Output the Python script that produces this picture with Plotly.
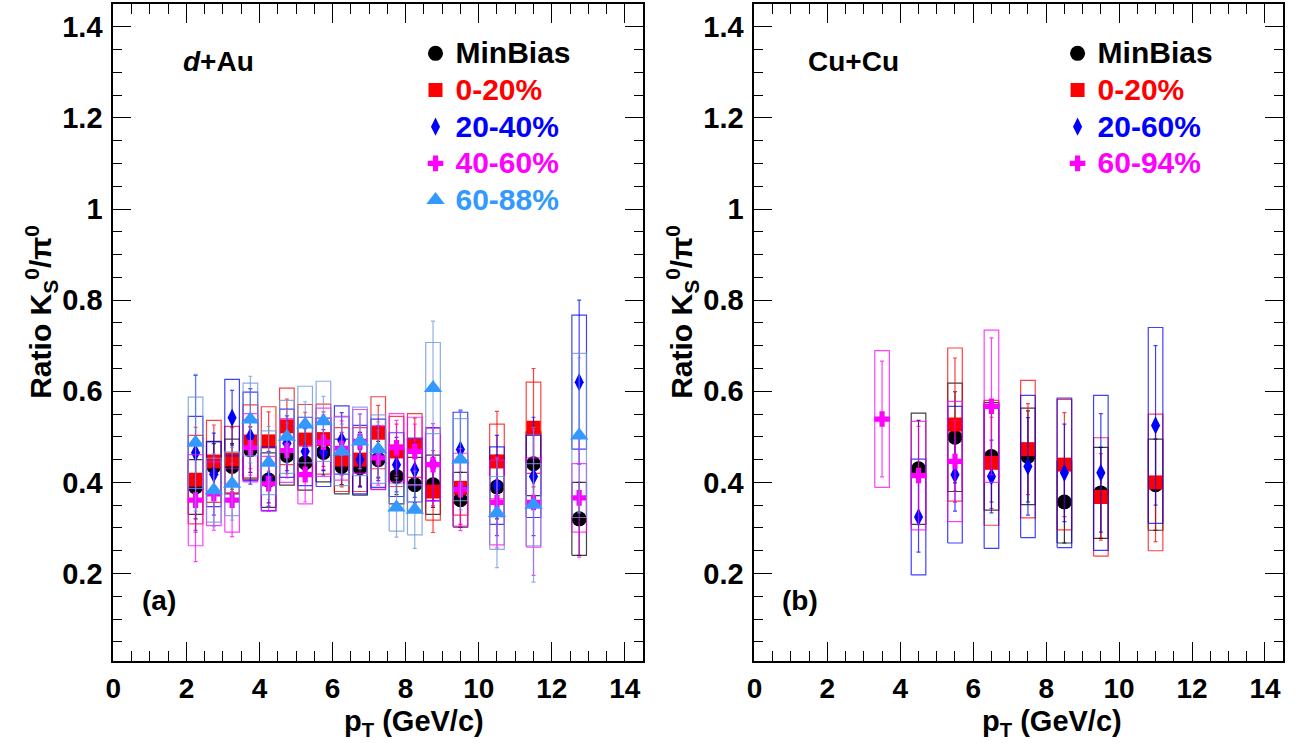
import plotly.graph_objects as go

W, H = 1314, 743

# ---------------- Panel (a): d+Au ----------------
xa = [2.25, 2.75, 3.25, 3.75, 4.25, 4.75, 5.25, 5.75, 6.25, 6.75, 7.25, 7.75, 8.25, 8.75, 9.5, 10.5, 11.5, 12.75]
xa_red = xa[:17]

a_mb = [0.39, 0.435, 0.435, 0.472, 0.405, 0.459, 0.443, 0.466, 0.435, 0.432, 0.45, 0.413, 0.395, 0.395, 0.362, 0.39, 0.441, 0.32]
a_mb_stat = [0.07, 0.05, 0.05, 0.05, 0.05, 0.04, 0.04, 0.04, 0.04, 0.04, 0.04, 0.04, 0.04, 0.05, 0.06, 0.07, 0.09, 0.08]
a_mb_sys = [0.06, 0.055, 0.06, 0.065, 0.06, 0.065, 0.06, 0.065, 0.06, 0.06, 0.065, 0.06, 0.06, 0.065, 0.06, 0.065, 0.07, 0.08]

a_c0 = [0.406, 0.446, 0.45, 0.49, 0.49, 0.523, 0.494, 0.495, 0.45, 0.45, 0.509, 0.468, 0.481, 0.38, 0.388, 0.446, 0.52]
a_c0_stat = [0.115, 0.08, 0.07, 0.06, 0.065, 0.06, 0.06, 0.06, 0.06, 0.06, 0.06, 0.06, 0.06, 0.09, 0.08, 0.11, 0.13]
a_c0_sys = [0.097, 0.09, 0.073, 0.08, 0.076, 0.084, 0.077, 0.077, 0.07, 0.07, 0.079, 0.077, 0.07, 0.063, 0.06, 0.082, 0.1]

a_c20 = [0.465, 0.418, 0.542, 0.501, 0.408, 0.486, 0.468, 0.466, 0.493, 0.45, 0.464, 0.439, 0.427, 0.44, 0.472, 0.393, 0.413, 0.62]
a_c20_stat = [0.17, 0.09, 0.06, 0.105, 0.06, 0.06, 0.05, 0.05, 0.06, 0.06, 0.06, 0.06, 0.06, 0.08, 0.085, 0.11, 0.13, 0.18]
a_c20_sys = [0.08, 0.071, 0.084, 0.097, 0.07, 0.075, 0.075, 0.075, 0.075, 0.075, 0.075, 0.07, 0.07, 0.08, 0.082, 0.085, 0.09, 0.147]

a_c40 = [0.361, 0.375, 0.361, 0.476, 0.397, 0.47, 0.417, 0.488, 0.475, 0.49, 0.454, 0.476, 0.468, 0.439, 0.384, 0.356, 0.356, 0.366]
a_c40_stat = [0.135, 0.08, 0.08, 0.06, 0.06, 0.06, 0.06, 0.06, 0.06, 0.06, 0.06, 0.06, 0.06, 0.09, 0.09, 0.1, 0.16, 0.13]
a_c40_sys = [0.1, 0.07, 0.07, 0.075, 0.06, 0.07, 0.064, 0.075, 0.07, 0.07, 0.07, 0.075, 0.075, 0.08, 0.08, 0.093, 0.098, 0.075]

a_c60 = [0.487, 0.383, 0.397, 0.538, 0.443, 0.50, 0.527, 0.534, 0.468, 0.49, 0.473, 0.345, 0.34, 0.607, 0.45, 0.333, 0.351, 0.503]
a_c60_stat = [0.15, 0.08, 0.08, 0.095, 0.08, 0.06, 0.05, 0.055, 0.06, 0.06, 0.06, 0.065, 0.085, 0.147, 0.11, 0.12, 0.17, 0.17]
a_c60_sys = [0.1, 0.07, 0.07, 0.08, 0.07, 0.08, 0.084, 0.088, 0.075, 0.075, 0.075, 0.052, 0.055, 0.1, 0.09, 0.08, 0.09, 0.18]

# ---------------- Panel (b): Cu+Cu ----------------
xb_mb = [4.5, 5.5, 6.5, 7.5, 8.5, 9.5, 11.0]
b_mb = [0.43, 0.499, 0.457, 0.457, 0.357, 0.377, 0.395]
b_mb_stat = [0.106, 0.1, 0.1, 0.1, 0.09, 0.1, 0.1]
b_mb_sys = [0.122, 0.119, 0.118, 0.106, 0.09, 0.1, 0.1]

xb_c0 = [5.5, 6.5, 7.5, 8.5, 9.5, 11.0]
b_c0 = [0.527, 0.443, 0.473, 0.439, 0.368, 0.40]
b_c0_stat = [0.146, 0.1, 0.1, 0.114, 0.095, 0.13]
b_c0_sys = [0.168, 0.137, 0.151, 0.143, 0.13, 0.15]

xb_c20 = [4.5, 5.5, 6.5, 7.5, 8.5, 9.5, 11.0]
b_c20 = [0.324, 0.417, 0.413, 0.435, 0.421, 0.421, 0.525]
b_c20_stat = [0.077, 0.08, 0.08, 0.107, 0.107, 0.13, 0.175]
b_c20_sys = [0.127, 0.15, 0.158, 0.156, 0.164, 0.17, 0.215]

xb_c60 = [3.5, 4.5, 5.5, 6.5]
b_c60 = [0.539, 0.415, 0.446, 0.567]
b_c60_stat = [0.127, 0.108, 0.09, 0.15]
b_c60_sys = [0.15, 0.119, 0.132, 0.167]

BOX_HW = 0.2
FONT = "Liberation Sans, Arial, sans-serif"

fig = go.Figure()


def add_series(x, y, stat, sys, name, color, barcolor, boxcolor, symbol, size, xa_, ya_, legend):
    bx, by = [], []
    for xi, yi, si in zip(x, y, sys):
        bx += [xi - BOX_HW, xi + BOX_HW, xi + BOX_HW, xi - BOX_HW, xi - BOX_HW, None]
        by += [yi - si, yi - si, yi + si, yi + si, yi - si, None]
    fig.add_trace(go.Scatter(x=bx, y=by, mode="lines", line=dict(color=boxcolor, width=1.2),
                             showlegend=False, hoverinfo="skip", xaxis=xa_, yaxis=ya_))
    fig.add_trace(go.Scatter(
        x=x, y=y, mode="markers", xaxis=xa_, yaxis=ya_, legend=legend,
        name=f'<span style="color:{color};font-size:30px">{name}</span>',
        marker=dict(symbol=symbol, size=size, color=color, line=dict(width=0)),
        error_y=dict(type="data", array=stat, visible=True, color=barcolor, thickness=1.2, width=2),
    ))


series_a = [
    (xa, a_mb, a_mb_stat, a_mb_sys, "MinBias", "#000000", "rgba(0,0,0,0.8)", "rgba(0,0,0,0.75)", "circle", 15),
    (xa_red, a_c0, a_c0_stat, a_c0_sys, "0-20%", "#ff0000", "rgba(255,0,0,0.75)", "rgba(255,0,0,0.75)", "square", 14),
    (xa, a_c20, a_c20_stat, a_c20_sys, "20-40%", "#0000ff", "rgba(0,0,255,0.75)", "rgba(0,0,255,0.75)", "diamond-tall", 13),
    (xa, a_c40, a_c40_stat, a_c40_sys, "40-60%", "#ff00ff", "rgba(255,0,255,0.75)", "rgba(255,0,255,0.75)", "cross", 13),
    (xa, a_c60, a_c60_stat, a_c60_sys, "60-88%", "#3399ff", "rgba(110,150,220,0.75)", "rgba(110,150,220,0.8)", "triangle-up", 16),
]
series_b = [
    (xb_mb, b_mb, b_mb_stat, b_mb_sys, "MinBias", "#000000", "rgba(0,0,0,0.8)", "rgba(0,0,0,0.75)", "circle", 15),
    (xb_c0, b_c0, b_c0_stat, b_c0_sys, "0-20%", "#ff0000", "rgba(255,0,0,0.75)", "rgba(255,0,0,0.75)", "square", 14),
    (xb_c20, b_c20, b_c20_stat, b_c20_sys, "20-60%", "#0000ff", "rgba(0,0,255,0.75)", "rgba(0,0,255,0.75)", "diamond-tall", 13),
    (xb_c60, b_c60, b_c60_stat, b_c60_sys, "60-94%", "#ff00ff", "rgba(255,0,255,0.75)", "rgba(255,0,255,0.75)", "cross", 13),
]

for s in series_a:
    add_series(*s, "x", "y", "legend")
for s in series_b:
    add_series(*s, "x2", "y2", "legend2")

ytickfont = dict(family=FONT, size=29, color="black", weight="bold")
xtickfont = dict(family=FONT, size=28, color="black", weight="bold")


def xaxis_def(dom):
    return dict(domain=dom, range=[0, 14.5], tick0=0, dtick=2, ticks="inside", ticklen=19, tickwidth=1.3,
                tickcolor="black", showline=True, linecolor="black", linewidth=2, mirror="ticks",
                showgrid=False, zeroline=False, tickfont=xtickfont, ticklabelstandoff=1,
                minor=dict(dtick=0.5, ticks="inside", ticklen=10, tickwidth=1.3, tickcolor="black", showgrid=False))


def yaxis_def(anchor):
    return dict(domain=[1 - 661 / H, 1 - 4 / H], range=[0.008, 1.45], tick0=0, dtick=0.2, ticks="inside",
                ticklen=18, tickwidth=1.3, tickcolor="black", showline=True, linecolor="black", linewidth=2,
                mirror="ticks", showgrid=False, zeroline=False, tickfont=ytickfont, anchor=anchor,
                ticklabelstandoff=3,
                minor=dict(dtick=0.05, ticks="inside", ticklen=9, tickwidth=1.3, tickcolor="black", showgrid=False))


legfont = dict(family=FONT, size=25.9, color="black", weight="bold")
fig.update_layout(
    width=W, height=H, margin=dict(l=0, r=0, t=0, b=0),
    paper_bgcolor="white", plot_bgcolor="white",
    xaxis=xaxis_def([106 / W, 639 / W]) | dict(anchor="y"),
    yaxis=yaxis_def("x"),
    xaxis2=xaxis_def([751 / W, 1283 / W]) | dict(anchor="y2"),
    yaxis2=yaxis_def("x2"),
    legend=dict(x=410 / W, y=1 - 30 / H, xanchor="left", yanchor="top", font=legfont,
                bgcolor="rgba(0,0,0,0)", itemwidth=30, tracegroupgap=0),
    legend2=dict(x=1056 / W, y=1 - 30 / H, xanchor="left", yanchor="top", font=legfont,
                 bgcolor="rgba(0,0,0,0)", itemwidth=30, tracegroupgap=0),
    showlegend=True,
)

ann_font = dict(family=FONT, size=28, color="black", weight="bold")
title_font = dict(family=FONT, size=29, color="black", weight="bold")
ytitle_font = dict(family=FONT, size=30, color="black", weight="bold")
anns = [
    dict(text="<i>d</i>+Au", x=212 / W, y=1 - 62 / H, font=ann_font),
    dict(text="Cu+Cu", x=851 / W, y=1 - 62 / H, font=ann_font),
    dict(text="(a)", x=152 / W, y=1 - 600 / H, font=ann_font),
    dict(text="(b)", x=797 / W, y=1 - 600 / H, font=ann_font),
    dict(text="p<sub>T</sub> (GeV/c)", x=408 / W, y=1 - 723 / H, font=title_font),
    dict(text="p<sub>T</sub> (GeV/c)", x=1050 / W, y=1 - 723 / H, font=title_font),
    dict(text="Ratio K<sub>S</sub><sup>0</sup>/π<sup>0</sup>", x=33 / W, y=1 - 312 / H, font=ytitle_font, textangle=-90),
    dict(text="Ratio K<sub>S</sub><sup>0</sup>/π<sup>0</sup>", x=678 / W, y=1 - 312 / H, font=ytitle_font, textangle=-90),
]
for a in anns:
    fig.add_annotation(xref="paper", yref="paper", showarrow=False, xanchor="center", yanchor="middle", **a)

fig.write_html("out.html")
